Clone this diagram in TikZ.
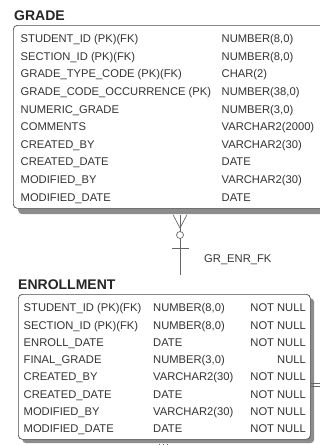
\documentclass[tikz,border=0pt]{standalone}
\usepackage{fontspec}
\setmainfont{Liberation Sans}
\usetikzlibrary{positioning}

\begin{document}
\begin{tikzpicture}[x=1pt,y=-1pt,
	title/.style={anchor=base west, inner sep=0pt, font=\bfseries\fontsize{14}{16}\selectfont, text=black!85},
	cell/.style={anchor=base west, inner sep=0pt, font=\fontsize{11.2}{13}\selectfont, text=black!80},
	cellr/.style={cell, anchor=base east},
	table/.style={draw=black!70, line width=0.7pt, rounded corners=4pt, fill=white, anchor=north west, inner sep=0pt},
	shade/.style={fill=black!45, draw=none, rounded corners=4pt, anchor=north west, inner sep=0pt},
	rel/.style={draw=black!60, line width=0.7pt}]
	% Define the variables
	\def\rowgap{17.6}
	\def\rowgapb{17.3}
	
	% Frame
	\useasboundingbox (0,0) rectangle (320,445);
	\clip (0,0) rectangle (320,445);
	
	% Table GRADE
	\node[title] (gradetitle) at (14,20.5) {GRADE};
	\node[shade, minimum width=330pt, minimum height=183pt] (gradeshade) at (18,31) {};
	\node[table, minimum width=330pt, minimum height=183pt] (grade) at (13,25) {};
	\foreach \col/\typ [count=\i from 0] in {STUDENT\_ID (PK)(FK)/NUMBER(8{,}0),
		SECTION\_ID (PK)(FK)/NUMBER(8{,}0),
		GRADE\_TYPE\_CODE (PK)(FK)/CHAR(2),
		GRADE\_CODE\_OCCURRENCE (PK)/NUMBER(38{,}0),
		NUMERIC\_GRADE/NUMBER(3{,}0),
		COMMENTS/VARCHAR2(2000),
		CREATED\_BY/VARCHAR2(30),
		CREATED\_DATE/DATE,
		MODIFIED\_BY/VARCHAR2(30),
		MODIFIED\_DATE/DATE}
	{
		\node[cell] (gcol\i) at (20.5,42.6+\i*\rowgap) {\col};
		\node[cell] (gtyp\i) at (221.5,42.6+\i*\rowgap) {\typ};
	}
	
	% Relationship GR_ENR_FK
	\coordinate (enrend) at (180,275);
	\coordinate (fork) at (180,228);
	\draw[rel] (grade.south -| enrend) ++(0,6) -- (enrend);
	\draw[rel] (grade.south -| enrend) ++(-7,6) -- (fork);
	\draw[rel] (grade.south -| enrend) ++(7,6) -- (fork);
	\node[circle, rel, fill=white, minimum size=7pt, inner sep=0pt] (optional) at (180,235) {};
	\draw[rel] ([xshift=-8pt]enrend |- 0,248) -- ([xshift=9pt]enrend |- 0,248);
	\node[cell] (relname) at (204,262) {GR\_ENR\_FK};
	
	% Table ENROLLMENT
	\node[title] (enrtitle) at (18,289) {ENROLLMENT};
	\node[shade, minimum width=292pt, minimum height=145pt] (enrshade) at (22,298) {};
	\node[table, minimum width=292pt, minimum height=145pt] (enrollment) at (18,294) {};
	\foreach \col/\typ/\nul [count=\i from 0] in {STUDENT\_ID (PK)(FK)/NUMBER(8{,}0)/NOT NULL,
		SECTION\_ID (PK)(FK)/NUMBER(8{,}0)/NOT NULL,
		ENROLL\_DATE/DATE/NOT NULL,
		FINAL\_GRADE/NUMBER(3{,}0)/NULL,
		CREATED\_BY/VARCHAR2(30)/NOT NULL,
		CREATED\_DATE/DATE/NOT NULL,
		MODIFIED\_BY/VARCHAR2(30)/NOT NULL,
		MODIFIED\_DATE/DATE/NOT NULL}
	{
		\node[cell] (ecol\i) at (23.5,311.7+\i*\rowgapb) {\col};
		\node[cell] (etyp\i) at (153,311.7+\i*\rowgapb) {\typ};
		\node[cellr] (enul\i) at (306,311.7+\i*\rowgapb) {\nul};
	}
	
	% Other relationships (cut off)
	\foreach \y in {383.5,386.5}
	\draw[rel] (enrollment.east |- 0,\y) -- (320,\y);
	\foreach \x in {159,163,167}
	\draw[rel] (enrollment.south -| \x,0) ++(0,4) -- (\x,445);
\end{tikzpicture}
\end{document}
